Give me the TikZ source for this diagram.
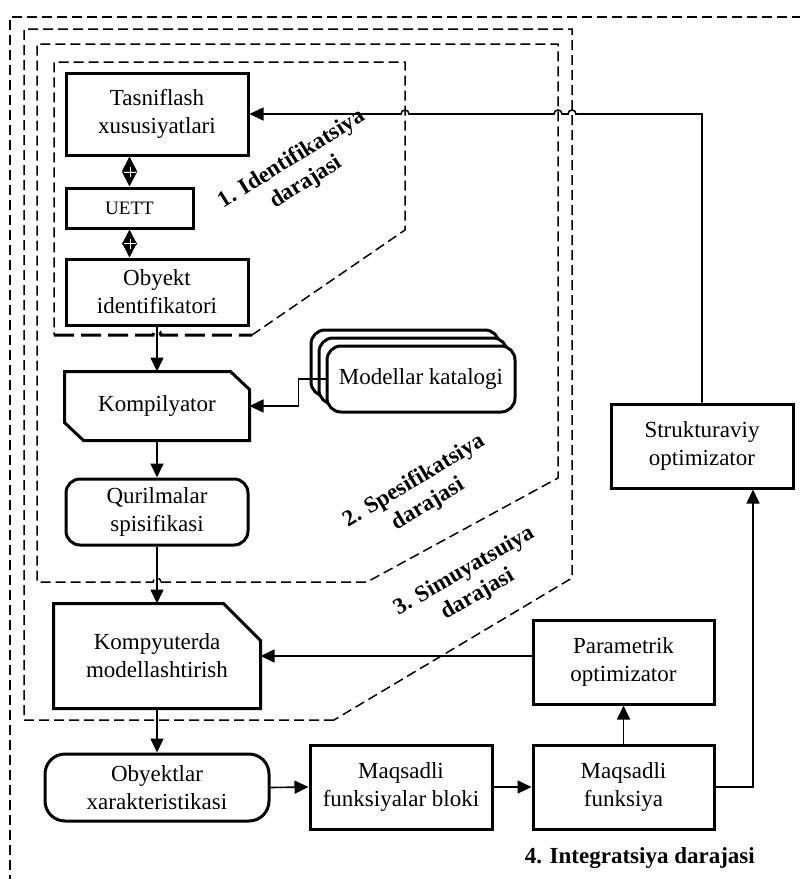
\documentclass[tikz,border=0pt]{standalone}
\usepackage{fontspec}
\setmainfont{Liberation Serif}
\usetikzlibrary{arrows.meta}
\begin{document}
\begin{tikzpicture}[x=1pt,y=-1pt,
  blk/.style={draw, line width=3pt, fill=white, align=center,
    font=\fontsize{23}{28}\selectfont, inner sep=0pt},
  conn/.style={line width=1.6pt},
  arr/.style={conn, -{Triangle[length=14pt,width=13pt]}},
  dbl/.style={conn, {Triangle[length=15pt,width=15pt]}-{Triangle[length=15pt,width=15pt]}},
  zone/.style={line width=1.5pt, dash pattern=on 10pt off 5pt},
  zonebold/.style={line width=3pt, dash pattern=on 20pt off 7pt},
  lvl/.style={font=\bfseries\fontsize{23}{27}\selectfont, align=center, inner sep=0pt}]

\useasboundingbox (0,0) rectangle (800,879);
\clip (0,0) rectangle (800,879);

% level boundaries
\draw[zone] (10,900) -- (10,17) -- (820,17);
\draw[zone] (334,720) -- (24,720) -- (24,29) -- (572,29) -- (572,578) -- cycle;
\draw[zone] (161,582) -- (367,582) -- (558,478) -- (558,44) -- (37,44) -- (37,582)
  -- (153,582) arc[start angle=180,end angle=360,radius=4];
\draw[zone] (252,335) -- (405,230) -- (405,62) -- (54,62) -- (54,335);
\draw[zonebold] (54,335) -- (153,335) arc[start angle=180,end angle=360,radius=4] -- (252,335);

% blocks
\node[blk, minimum width=182pt, minimum height=82pt] (tas) at (157,114) {Tasniflash\\xususiyatlari};
\node[blk, minimum width=127pt, minimum height=40pt, font=\fontsize{19}{23}\selectfont] (uett) at (129.5,208) {UETT};
\node[blk, minimum width=182pt, minimum height=66pt] (obi) at (157,292) {Obyekt\\identifikatori};

\node[blk, draw=none, fill=none, minimum width=182pt, minimum height=66pt] (kom) at (157,406) {Kompilyator};
\draw[line width=3pt] (kom.north west) -- ([xshift=-19pt]kom.north east)
  -- ([yshift=-18pt]kom.north east) -- (kom.south east)
  -- ([xshift=19pt]kom.south west) -- ([yshift=18pt]kom.south west) -- cycle;

\node[blk, rounded corners=14pt, minimum width=188pt, minimum height=66pt] (modb) at (405,363) {};
\node[blk, rounded corners=14pt, minimum width=188pt, minimum height=66pt] (modm) at (413,371) {};
\node[blk, rounded corners=14pt, minimum width=188pt, minimum height=66pt] (mod) at (421,379) {Modellar katalogi};

\node[blk, rounded corners=14pt, minimum width=182pt, minimum height=66pt] (qur) at (157,512) {Qurilmalar\\spisifikasi};

\node[blk, draw=none, fill=none, minimum width=204pt, minimum height=102pt] (kmp) at (157,656) {Kompyuterda\\modellashtirish};
\draw[line width=3pt] (kmp.north west) -- ([xshift=-37pt]kmp.north east)
  -- ([yshift=-37pt]kmp.north east) -- (kmp.south east) -- (kmp.south west) -- cycle;

\node[blk, rounded corners=20pt, minimum width=224pt, minimum height=67pt] (obx) at (157,787.5) {Obyektlar\\xarakteristikasi};
\node[blk, minimum width=182pt, minimum height=84pt] (mfb) at (401,787) {Maqsadli\\funksiyalar bloki};
\node[blk, minimum width=181pt, minimum height=84pt] (mf) at (623.5,787) {Maqsadli\\funksiya};
\node[blk, minimum width=181pt, minimum height=84pt] (par) at (623.5,662) {Parametrik\\optimizator};
\node[blk, minimum width=182pt, minimum height=84pt] (str) at (702,446) {Strukturaviy\\optimizator};

% level captions
\node[lvl, rotate=32] (l1) at (299,171) {1. Identifikatsiya\\darajasi};
\node[lvl, rotate=31] (l2) at (421,493) {2. Spesifikatsiya\\darajasi};
\node[lvl, rotate=30] (l3) at (471,583) {3. Simuyatsuiya\\darajasi};
\node[lvl, anchor=east] (l4) at (755,858) {4. Integratsiya darajasi};

% connectors
\coordinate (m1) at (130,172);
\coordinate (m2) at (130,243.5);
\draw[dbl] (uett.north |- tas.south) -- (uett.north);
\draw[dbl] (uett.south) -- (uett.south |- obi.north);
\foreach \m in {m1,m2}{
  \draw[white, line width=1pt] ([xshift=-6pt]\m) -- ([xshift=6pt]\m);
  \draw[white, line width=0.9pt] ([yshift=-5pt]\m) -- ([yshift=5pt]\m);
}
\draw[arr] (obi.south) -- (kom.north);
\draw[arr] (mod.west) -- ++(-27,0) |- (kom.east);
\draw[arr] (kom.south) -- (qur.north);
\draw[arr] (qur.south) -- (kmp.north);
\draw[arr] (par.west |- kmp.east) -- (kmp.east);
\draw[arr] (kmp.south) -- (obx.north);
\draw[arr] (obx.east) -- (mfb.west);
\draw[arr] (mfb.east) -- (mf.west);
\draw[arr] (mf.north) -- (par.south);
\coordinate (sj) at (753,0);
\draw[arr] (mf.east) -| (sj |- str.south);
\coordinate (fb) at (702,114);
\draw[arr] (str.north) -- (fb) -- (576,114) arc[start angle=0,end angle=-180,radius=4]
  -- (562,114) arc[start angle=0,end angle=-180,radius=4]
  -- (409,114) arc[start angle=0,end angle=-180,radius=4] -- (tas.east);
\end{tikzpicture}
\end{document}
